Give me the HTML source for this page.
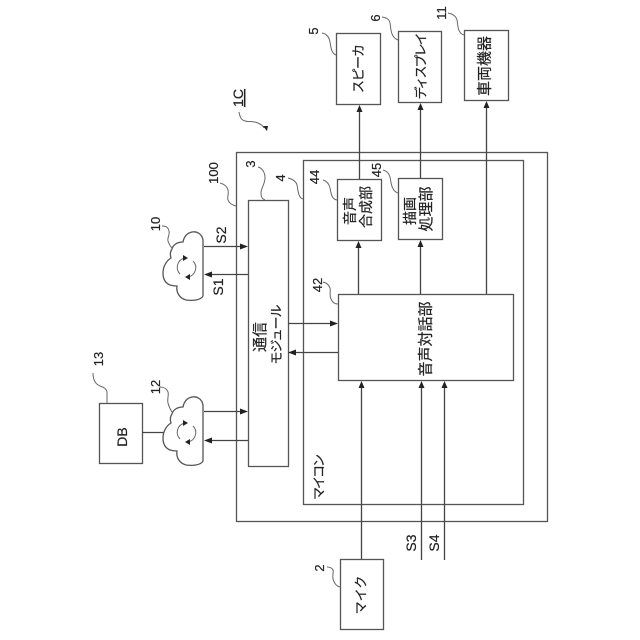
<!DOCTYPE html>
<html>
<head>
<meta charset="utf-8">
<style>
html,body{margin:0;padding:0;background:#fff;width:640px;height:640px;overflow:hidden}
svg{display:block}
text{font-family:"Liberation Sans","Noto Sans CJK JP",sans-serif;fill:#222;stroke:#222;stroke-width:.2}
.l{stroke:#444;stroke-width:1.3;fill:none}
.b{stroke:#555;stroke-width:1.3;fill:#fff}
.c{stroke:#666;stroke-width:1;fill:none}
.a{fill:#222;stroke:none}
</style>
</head>
<body>
<svg width="640" height="640" viewBox="0 0 640 640" xmlns="http://www.w3.org/2000/svg">
<!-- containers -->
<rect class="b" x="236.500" y="152.500" width="311" height="369"/>
<rect class="b" x="303.500" y="160.500" width="220" height="344"/>
<rect class="b" x="248.500" y="200.500" width="40" height="266"/>
<rect class="b" x="337.500" y="179.500" width="44" height="61"/>
<rect class="b" x="398.500" y="178.500" width="44" height="61"/>
<rect class="b" x="338.500" y="294.500" width="175" height="86"/>
<rect class="b" x="336.500" y="33.500" width="44" height="71"/>
<rect class="b" x="398.500" y="31.500" width="43" height="71"/>
<rect class="b" x="464.500" y="30.500" width="44" height="70"/>
<rect class="b" x="340.500" y="559.500" width="43" height="70"/>
<rect class="b" x="99.500" y="403.500" width="43" height="60"/>

<!-- connectors -->
<path class="l" d="M359.500 179V110M420.500 178V108M486.500 294V106M358.500 294V247M420.500 294V246"/>
<path class="l" d="M361.500 559V386M421.500 560V386M444.500 560V386"/>
<path class="l" d="M204 246.500H243M248 274.500H209M288 323.500H333M338 352.500H294M204 411.500H243M248 440.500H209M142 432.500H164"/>
<!-- arrowheads -->
<path class="a" d="M359.500 105l-3 7h6zM420.500 103l-3 7h6zM486.500 101l-3 7h6zM358.500 241l-3 7h6zM420.500 240l-3 7h6z"/>
<path class="a" d="M361.500 381l-3 7h6zM421.500 381l-3 7h6zM444.500 381l-3 7h6z"/>
<path class="a" d="M248 246.500l-8-3v6zM204 274.500l8-3v6zM338 323.500l-8-3v6zM288 352.500l8-3v6zM248 411.500l-8-3v6zM204 440.500l8-3v6z"/>

<!-- clouds -->
<g>
<path class="b" d="M203 240C202 234 197 231 192 232C187 233 184 237 183 242C177 242 173 245 172 249C170 252 170 255 171 258C166 261 163 267 163 273C163 279 165 283 170 285C173 286 175 286 177 286C176 292 179 298 186 300C193 301 201 300 203 296Z"/>
<path class="c" d="M180 274A9.500 9.500 0 0 1 185 258M193 261A9.500 9.500 0 0 1 188 277"/>
<path class="a" d="M188 258l-5-3v6zM185 277l5-3v6z"/>
</g>
<g transform="translate(0 165)">
<path class="b" d="M203 240C202 234 197 231 192 232C187 233 184 237 183 242C177 242 173 245 172 249C170 252 170 255 171 258C166 261 163 267 163 273C163 279 165 283 170 285C173 286 175 286 177 286C176 292 179 298 186 300C193 301 201 300 203 296Z"/>
<path class="c" d="M180 274A9.500 9.500 0 0 1 185 258M193 261A9.500 9.500 0 0 1 188 277"/>
<path class="a" d="M188 258l-5-3v6zM185 277l5-3v6z"/>
</g>

<!-- leader squiggles -->
<path class="c" d="M322 33c5 1 7 4 8 9s1 11 6 13"/>
<path class="c" d="M382 17c5 1 7 2 8 6s0 14 8 17"/>
<path class="c" d="M448 13c5 1 8 3 9 7s0 13 7 15"/>
<path class="c" d="M220 183c4 1 7 3 8 7s-1 7 0 10 4 5 8 6"/>
<path class="c" d="M258 167c4 1 7 5 7 11s-4 10-4 15 2 6 4 7"/>
<path class="c" d="M288 178c4 1 8 3 9 7s1 13 6 14"/>
<path class="c" d="M323 180c4 1 6 4 7 8s1 11 7 12"/>
<path class="c" d="M383 170c4 1 6 3 7 7s1 14 8 16"/>
<path class="c" d="M323 282c4 1 6 3 7 6s-1 7 1 11 4 5 7 5"/>
<path class="c" d="M162 226c4 0 6 1 7 5s-2 7-1 10 2 5 4 7"/>
<path class="c" d="M160 387c4 0 7 2 8 5s-1 7 0 11 2 6 4 9"/>
<path class="c" d="M93 373c0 6 2 10 5 12s9 2 9 8 0 7 0 10"/>
<path class="c" d="M327 567c3 0 5 1 6 3s-1 5 0 9 3 7 7 8"/>
<path class="c" d="M239 112c1 5 2 8 6 9s9 0 13 2 5 3 6 5"/>
<path class="a" d="M267 131l-4-5 5 0z"/>

<!-- rotated labels -->
<g font-size="14" text-anchor="middle">
<text transform="translate(363 69) rotate(-90)" font-size="13" letter-spacing="-1">スピーカ</text>
<text transform="translate(425.500 67) rotate(-90)" font-size="13" letter-spacing="-2">ディスプレイ</text>
<text transform="translate(489.500 66) rotate(-90)" font-size="15">車両機器</text>
<text transform="translate(365.500 595) rotate(-90)" font-size="13">マイク</text>
<text transform="translate(127 437) rotate(-90)">DB</text>
<text transform="translate(355 211) rotate(-90)">音声</text>
<text transform="translate(371 207) rotate(-90)">合成部</text>
<text transform="translate(415 211) rotate(-90)">描画</text>
<text transform="translate(431 209) rotate(-90)" font-size="15">処理部</text>
<text transform="translate(430.500 339) rotate(-90)" font-size="15">音声対話部</text>
<text transform="translate(265 337) rotate(-90)" font-size="15">通信</text>
<text transform="translate(281 335) rotate(-90)" font-size="13" letter-spacing="-1">モジュール</text>
<text transform="translate(323.500 478) rotate(-90)" font-size="13" letter-spacing="-2">マイコン</text>
</g>
<g font-size="13" text-anchor="middle">
<text transform="translate(318 31) rotate(-90)">5</text>
<text transform="translate(380 18) rotate(-90)">6</text>
<text transform="translate(446 13) rotate(-90)">11</text>
<text transform="translate(319 177) rotate(-90)">44</text>
<text transform="translate(381 170) rotate(-90)">45</text>
<text transform="translate(322 285) rotate(-90)">42</text>
<text transform="translate(218 173) rotate(-90)">100</text>
<text transform="translate(255 164) rotate(-90)">3</text>
<text transform="translate(285 178) rotate(-90)">4</text>
<text transform="translate(160 224) rotate(-90)">10</text>
<text transform="translate(160 387) rotate(-90)">12</text>
<text transform="translate(103 359) rotate(-90)">13</text>
<text transform="translate(324 568) rotate(-90)">2</text>
<text transform="translate(226 235) rotate(-90)" font-size="14">S2</text>
<text transform="translate(223 287) rotate(-90)" font-size="14">S1</text>
<text transform="translate(416 543) rotate(-90)" font-size="14">S3</text>
<text transform="translate(439 543) rotate(-90)" font-size="14">S4</text>
<text transform="translate(243 98) rotate(-90)" font-size="14" text-decoration="underline">1C</text>
</g>
</svg>
</body>
</html>
